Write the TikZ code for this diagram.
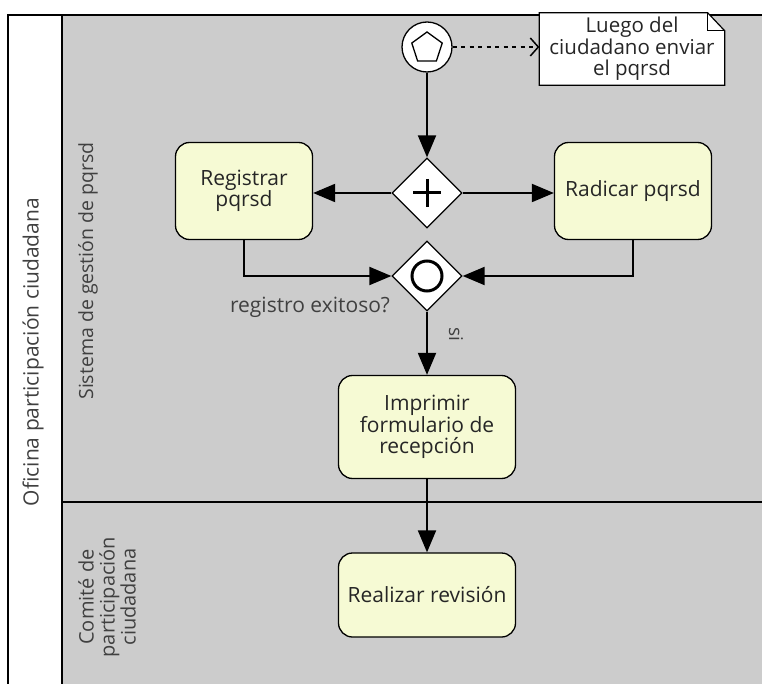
\documentclass[tikz,border=0pt]{standalone}
\usepackage{fontspec}
\setmainfont{Open Sans}
\usetikzlibrary{arrows.meta,shapes.geometric}
\definecolor{lanegray}{RGB}{204,204,204}
\definecolor{taskyellow}{RGB}{246,250,212}

\begin{document}
\begin{tikzpicture}[x=1pt, y=-1pt,
  task/.style={draw, line width=1.3pt, rounded corners=14pt, fill=taskyellow,
    minimum width=137pt, minimum height=97pt, align=center, inner sep=2pt,
    font=\fontsize{21}{21.5}\selectfont, text=black!85},
  gate/.style={draw, line width=1.3pt, diamond, aspect=1, fill=white, minimum size=70pt, inner sep=0pt},
  flow/.style={line width=2pt, -{Triangle[length=22pt, width=18pt]}},
  lbl/.style={font=\fontsize{21}{22}\selectfont, text=black!75}]
  \useasboundingbox (0,0) rectangle (762,684);

  % pool and lanes
  \fill[lanegray] (62,15) rectangle (762,684);
  \draw[line width=1.2pt] (8,684) -- (8,15) -- (762,15);
  \draw[line width=1.2pt] (62,15) -- (62,684);
  \draw[line width=1.2pt] (62,502) -- (762,502);

  \node[lbl, rotate=90] (P) at (33,352) {Oficina participación ciudadana};
  \node[lbl, rotate=90, font=\fontsize{19.5}{21}\selectfont] (L1) at (88,271) {Sistema de gestión de pqrsd};
  \node[lbl, rotate=90, align=center, font=\fontsize{20}{21}\selectfont] (L2) at (107,597) {Comité de\\participación\\ciudadana};

  % start event and note
  \node[draw, circle, line width=1.3pt, fill=white, minimum size=50pt] (start) at (427,47) {};
  \node[draw, regular polygon, regular polygon sides=5, line width=1.3pt, minimum size=32pt, inner sep=0pt] (pent) at (427,48) {};

  \node[minimum width=185pt, minimum height=72pt, inner sep=0pt] (note) at (632,49) {};
  \draw[line width=1.2pt, fill=white] (note.north west) -- ([xshift=-17pt]note.north east)
    -- ([yshift=-18pt]note.north east) -- (note.south east) -- (note.south west) -- cycle;
  \draw[line width=1.2pt] ([xshift=-17pt]note.north east) |- ([yshift=-18pt]note.north east);
  \node[align=center, font=\fontsize{20.5}{21.5}\selectfont, text=black!85] (notetext) at (note) {Luego del\\ciudadano enviar\\el pqrsd};

  % gateways
  \node[gate] (para) at (427,193) {};
  \draw[line width=3pt] (413,193) -- (441,193) (427,179) -- (427,207);
  \node[gate] (incl) at (427,276) {};
  \draw[line width=3pt] (427,276) circle (15pt);

  % tasks
  \node[task] (reg) at (244,191) {Registrar\\pqrsd};
  \node[task, minimum width=157pt] (rad) at (633,191) {Radicar pqrsd};
  \node[task, minimum width=177pt, minimum height=103pt] (imp) at (427,427) {Imprimir\\formulario de\\recepción};
  \node[task, minimum width=177pt, minimum height=84pt] (rev) at (427,595) {Realizar revisión};

  % flows
  \draw[line width=2.5pt, dash pattern=on 4pt off 4.5pt, -{Straight Barb[length=8pt, width=18pt, line width=1.5pt]}] (start) -- (note.west |- start);
  \draw[flow] (start) -- (para);
  \draw[flow] (para.west) -- (reg.east |- para.west);
  \draw[flow] (para.east) -- (rad.west |- para.east);
  \draw[flow] (reg.south) |- (incl.west);
  \draw[flow] (rad.south) |- (incl.east);
  \draw[flow] (incl) -- (imp);
  \draw[flow] (imp) -- (rev);

  \node[lbl] (q) at (310,307) {registro exitoso?};
  \node[lbl, rotate=-90, font=\fontsize{19}{20}\selectfont] (si) at (456,334) {si};
\end{tikzpicture}
\end{document}
